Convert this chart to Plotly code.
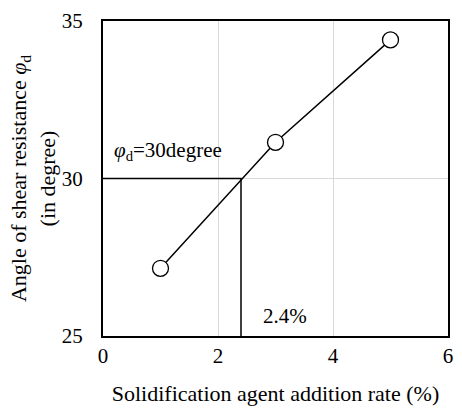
import plotly.graph_objects as go

rate = [1, 3, 5]
angle = [27.15, 31.15, 34.4]
ref_rate = 2.4
ref_angle = 30
x_ticks = [0, 2, 4, 6]
y_ticks = [25, 30, 35]

font = "Liberation Serif"

fig = go.Figure()
fig.add_trace(go.Scatter(x=[0, ref_rate, ref_rate], y=[ref_angle, ref_angle, 25],
                         mode="lines", line=dict(color="black", width=1.5),
                         showlegend=False, hoverinfo="skip"))
fig.add_trace(go.Scatter(x=rate, y=angle, mode="lines+markers",
                         line=dict(color="black", width=1.5),
                         marker=dict(symbol="circle", size=16, color="white",
                                     line=dict(color="black", width=1.3)),
                         showlegend=False))

fig.add_annotation(x=0.15, y=30.88, xref="x", yref="y", xanchor="left", yanchor="middle",
                   text="<i>φ</i><sub>d</sub>=30degree", showarrow=False,
                   font=dict(family=font, size=21, color="black"))
fig.add_annotation(x=2.74, y=25.63, xref="x", yref="y", xanchor="left", yanchor="middle",
                   text="2.4%", showarrow=False,
                   font=dict(family=font, size=21, color="black"))

fig.update_xaxes(range=[0, 6], tickvals=x_ticks, showgrid=True, gridcolor="#d9d9d9", gridwidth=1,
                 showline=True, linecolor="black", linewidth=2, mirror=True, zeroline=False,
                 ticks="", ticklabelstandoff=0, tickfont=dict(family=font, size=21, color="black"),
                 title=dict(text="Solidification agent addition rate (%)",
                            font=dict(family=font, size=22, color="black"), standoff=18))
fig.update_yaxes(range=[25, 35], tickvals=y_ticks, showgrid=True, gridcolor="#d9d9d9", gridwidth=1,
                 showline=True, linecolor="black", linewidth=2, mirror=True, zeroline=False,
                 ticks="", ticklabelstandoff=14, tickfont=dict(family=font, size=21, color="black"),
                 title=dict(text="Angle of shear resistance <i>φ</i><sub>d</sub><br>(in degree)",
                            font=dict(family=font, size=22, color="black"), standoff=0))

fig.update_layout(width=462, height=414, margin=dict(l=103, r=9, t=18, b=78),
                  plot_bgcolor="white", paper_bgcolor="white",
                  font=dict(family=font))
fig.write_html("out.html")
